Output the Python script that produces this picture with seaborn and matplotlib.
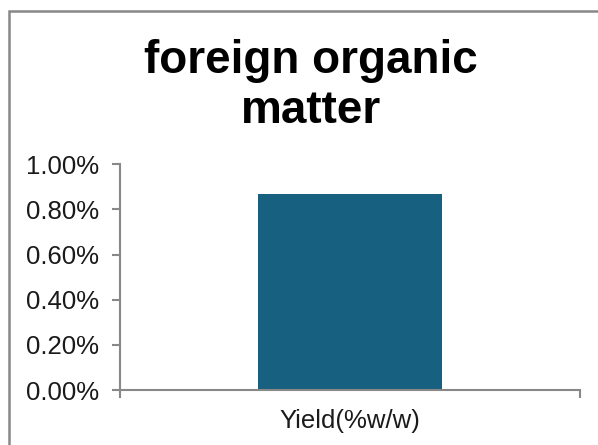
import matplotlib
matplotlib.use("Agg")
import matplotlib.pyplot as plt
import matplotlib.patches as mpatches
from matplotlib.ticker import FuncFormatter, FixedLocator
import seaborn as sns
import pandas as pd

# Data
categories = ["Yield(%w/w)"]
values = [0.87]          # percent
y_ticks = [0.0, 0.2, 0.4, 0.6, 0.8, 1.0]
title_lines = ["foreign organic", "matter"]

bar_color = "#17607F"
axis_gray = "#888888"
text_color = "#1a1a1a"

sns.set_theme(style="white")
plt.rcParams["font.family"] = ["Liberation Sans", "DejaVu Sans"]

W, H = 598, 445
fig = plt.figure(figsize=(W / 100, H / 100), dpi=100)
ax = fig.add_axes([120 / W, 1 - 390 / H, 460 / W, (390 - 164.3) / H])

df = pd.DataFrame({"category": categories, "value": values})
sns.barplot(data=df, x="category", y="value", color=bar_color, width=0.4,
            saturation=1, ax=ax, edgecolor="none")

ax.set_xlim(-0.5, len(categories) - 0.5)
ax.set_ylim(0, 1.0)
ax.set_xlabel("")
ax.set_ylabel("")

ax.yaxis.set_major_locator(FixedLocator(y_ticks))
ax.yaxis.set_major_formatter(FuncFormatter(lambda v, _: f"{v:.2f}%"))

for side in ("top", "right"):
    ax.spines[side].set_visible(False)
for side in ("left", "bottom"):
    ax.spines[side].set_color(axis_gray)
    ax.spines[side].set_linewidth(1.5)

ax.tick_params(axis="y", which="major", direction="out", length=6, width=1.5,
               color=axis_gray, labelsize=18.5, labelcolor=text_color, pad=9, left=True)
ax.tick_params(axis="x", which="major", length=0, labelsize=18.5,
               labelcolor=text_color, pad=14)
# category boundary ticks
ax.xaxis.set_minor_locator(FixedLocator([-0.5, len(categories) - 0.5]))
ax.tick_params(axis="x", which="minor", direction="out", length=6, width=1.5,
               color=axis_gray, bottom=True)

# two-line bold title
fig.text(311 / W, 1 - 73 / H, title_lines[0], ha="center", va="baseline",
         fontsize=33, fontweight="bold", color="black")
fig.text(311 / W, 1 - 123 / H, title_lines[1], ha="center", va="baseline",
         fontsize=33, fontweight="bold", color="black")

# chart-area frame
frame = mpatches.Rectangle((9.3 / W, -0.1), 1.2, 1.1 - 11.3 / H,
                           transform=fig.transFigure, fill=False,
                           edgecolor=axis_gray, linewidth=1.8)
fig.patches.append(frame)

fig.savefig("out.png", dpi=100, facecolor="white")
